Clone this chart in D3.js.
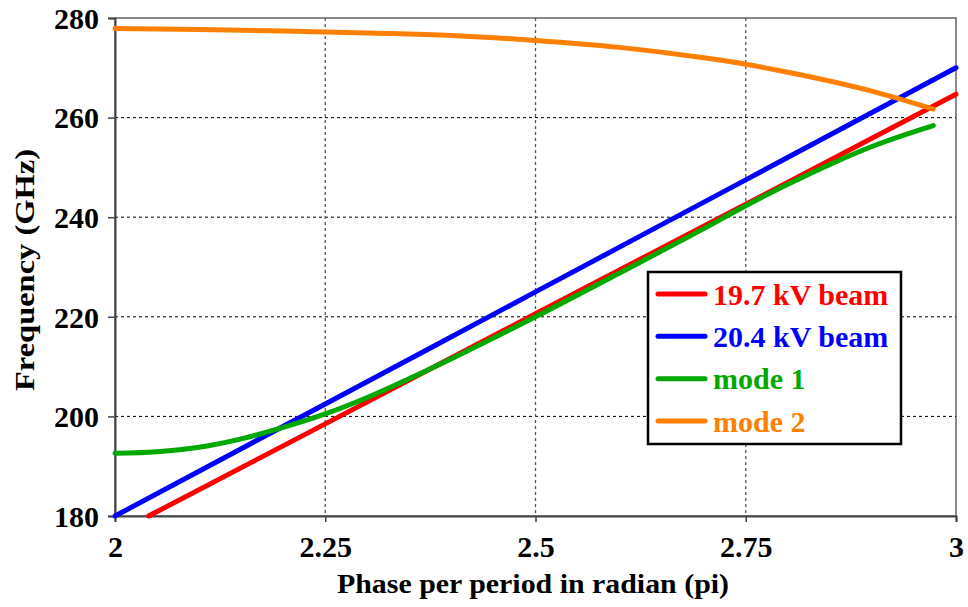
<!DOCTYPE html>
<html>
<head>
<meta charset="utf-8">
<script src="https://cdn.jsdelivr.net/npm/d3@7"></script>
</head>
<body style="margin:0">
<svg id="chart" width="968" height="607"></svg>
<script>
// Axis ticks
const phaseTicks = [2, 2.25, 2.5, 2.75, 3];
const freqTicks = [180, 200, 220, 240, 260, 280];

// Series: [phase per period (pi), frequency (GHz)]
const beam197 = [[2.04, 180], [2.25, 198.5], [2.5, 220.6], [2.75, 242.6], [3, 264.7]];
const beam204 = [[2, 180], [2.25, 202.5], [2.5, 225], [2.75, 247.5], [3, 270]];
const mode1 = [
  [2.00, 192.6], [2.05, 192.9], [2.10, 193.8], [2.15, 195.5], [2.20, 197.8],
  [2.25, 200.5], [2.30, 203.8], [2.35, 207.6], [2.40, 211.6], [2.50, 220.0],
  [2.60, 228.8], [2.70, 237.7], [2.75, 242.3], [2.80, 246.6], [2.85, 250.6],
  [2.90, 254.2], [2.973, 258.4]
];
const mode2 = [
  [2.00, 277.9], [2.10, 277.7], [2.20, 277.4], [2.30, 277.0], [2.40, 276.5],
  [2.50, 275.5], [2.60, 274.1], [2.70, 272.0], [2.75, 270.7], [2.80, 269.1],
  [2.90, 265.3], [2.973, 261.7]
];

const seriesNames = ["19.7 kV beam", "20.4 kV beam", "mode 1", "mode 2"];
const seriesColors = ["#ff0000", "#0000ff", "#00a800", "#ff8000"];
const seriesData = [beam197, beam204, mode1, mode2];

const FONT = "Liberation Serif";

// Bold serif text helper
function serifText(sel, size) {
  return sel.attr("font-family", FONT)
    .attr("font-weight", "bold")
    .attr("font-size", size)
    .style("font-family", FONT)
    .style("font-weight", "bold")
    .style("font-size", size + "px");
}

const svg = d3.select("#chart");
const plot = { left: 115, right: 956, top: 18, bottom: 516 };

const x = d3.scaleLinear().domain([2, 3]).range([plot.left, plot.right]);
const y = d3.scaleLinear().domain([180, 280]).range([plot.bottom, plot.top]);

// Plot frame
svg.append("rect")
  .attr("x", plot.left).attr("y", plot.top)
  .attr("width", plot.right - plot.left).attr("height", plot.bottom - plot.top)
  .attr("fill", "none").attr("stroke", "#666").attr("stroke-width", 1.5);

// Gridlines
svg.append("g").selectAll("line")
  .data(freqTicks.filter(d => d > 180 && d < 280))
  .join("line")
  .attr("x1", plot.left).attr("x2", plot.right)
  .attr("y1", d => y(d)).attr("y2", d => y(d))
  .attr("stroke", "#000").attr("stroke-width", 1).attr("stroke-dasharray", "3,3");

svg.append("g").selectAll("line")
  .data(phaseTicks.filter(d => d > 2 && d < 3))
  .join("line")
  .attr("x1", d => x(d)).attr("x2", d => x(d))
  .attr("y1", plot.top).attr("y2", plot.bottom)
  .attr("stroke", "#555").attr("stroke-width", 1.3).attr("stroke-dasharray", "3,3");

// Axes
const yAxis = d3.axisLeft(y).tickValues(freqTicks).tickSize(7).tickPadding(9).tickFormat(d3.format("d"));
const xAxis = d3.axisBottom(x).tickValues(phaseTicks).tickSize(6).tickPadding(14).tickFormat(d => String(d));

const gy = svg.append("g").attr("transform", `translate(${plot.left},0)`).call(yAxis);
const gx = svg.append("g").attr("transform", `translate(0,${plot.bottom})`).call(xAxis);

[gx, gy].forEach(g => {
  serifText(g, 30);
  g.select(".domain").attr("stroke", "#444").attr("stroke-width", 2);
  g.selectAll(".tick line").attr("stroke", "#444").attr("stroke-width", 1.5);
  serifText(g.selectAll(".tick text").attr("fill", "#000"), 30);
});
gy.selectAll(".tick text").attr("dy", "0.34em");

// Axis titles
serifText(svg.append("text"), 28)
  .attr("x", 533).attr("y", 593)
  .attr("text-anchor", "middle")
  .attr("textLength", 392)
  .attr("lengthAdjust", "spacingAndGlyphs")
  .text("Phase per period in radian (pi)");

serifText(svg.append("text"), 28)
  .attr("transform", `translate(34,${(plot.top + plot.bottom) / 2 + 3}) rotate(-90)`)
  .attr("text-anchor", "middle")
  .attr("textLength", 242)
  .attr("lengthAdjust", "spacingAndGlyphs")
  .text("Frequency (GHz)");

// Series lines
const line = d3.line().x(d => x(d[0])).y(d => y(d[1])).curve(d3.curveMonotoneX);
const lines = svg.append("g");
seriesData.forEach((data, i) => {
  lines.append("path")
    .datum(data)
    .attr("d", line)
    .attr("fill", "none")
    .attr("stroke", seriesColors[i])
    .attr("stroke-width", 5)
    .attr("stroke-linecap", "round")
    .attr("stroke-linejoin", "round");
});

// Legend
const legend = svg.append("g");
legend.append("rect")
  .attr("x", 648).attr("y", 272).attr("width", 253).attr("height", 172)
  .attr("fill", "#fff").attr("stroke", "#000").attr("stroke-width", 2.5);

const legendY = d3.scalePoint().domain(seriesNames).range([294, 421]);
seriesNames.forEach((name, i) => {
  legend.append("line")
    .attr("x1", 658).attr("x2", 705)
    .attr("y1", legendY(name)).attr("y2", legendY(name))
    .attr("stroke", seriesColors[i]).attr("stroke-width", 5)
    .attr("stroke-linecap", "round");
  serifText(legend.append("text"), 30)
    .attr("x", 713).attr("y", legendY(name))
    .attr("dy", "0.35em")
    .attr("fill", seriesColors[i])
    .text(name);
});
</script>
</body>
</html>
